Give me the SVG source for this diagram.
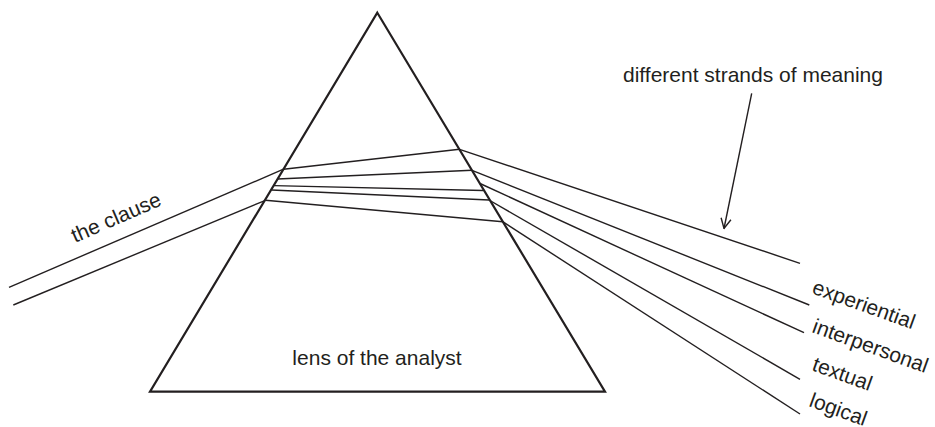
<svg xmlns="http://www.w3.org/2000/svg" width="935" height="427" viewBox="0 0 935 427">
<style>
.t{font-family:"Liberation Sans",Arial,sans-serif;font-size:21px;fill:#231f20}
.prism{fill:none;stroke:#231f20;stroke-width:2.2;stroke-linejoin:miter}
.ray{fill:none;stroke:#231f20;stroke-width:1.4}
</style>
<defs>
<marker id="open" viewBox="0 0 12 12" refX="11" refY="6" markerWidth="12" markerHeight="12" markerUnits="userSpaceOnUse" orient="auto">
<path d="M1,1 L11,6 L1,11" fill="none" stroke="#231f20" stroke-width="1.4"/>
</marker>
</defs>
<rect width="935" height="427" fill="#fff"/>
<g id="connectors">
<line class="ray" x1="9" y1="287.3" x2="283.5" y2="169.2"/>
<line class="ray" x1="13.3" y1="305" x2="265.5" y2="200.3"/>
<line class="ray" x1="283.5" y1="169.2" x2="459.5" y2="149.3"/>
<line class="ray" x1="277.5" y1="179" x2="472" y2="170.3"/>
<line class="ray" x1="274" y1="185.6" x2="483.5" y2="190.5"/>
<line class="ray" x1="271.5" y1="190" x2="489" y2="200"/>
<line class="ray" x1="265.5" y1="200.3" x2="502.7" y2="221.7"/>
<line class="ray" x1="459.5" y1="149.3" x2="800" y2="263.3"/>
<line class="ray" x1="472" y1="170.3" x2="809.3" y2="305"/>
<line class="ray" x1="480" y1="183.5" x2="804" y2="332.7"/>
<line class="ray" x1="489" y1="200" x2="800" y2="379.3"/>
<line class="ray" x1="502.7" y1="221.7" x2="800" y2="414"/>
<line class="ray" x1="751.7" y1="93.3" x2="724" y2="228.5" marker-end="url(#open)"/>
</g>
<g id="prism">
<polygon class="prism" points="377.3,12.7 605,391.7 150,391.7"/>
<text class="t" x="377" y="365" text-anchor="middle">lens of the analyst</text>
</g>
<g id="clause">
<text class="t" transform="translate(75,243) rotate(-23.5)">the clause</text>
</g>
<g id="strands">
<text class="t" x="623" y="82">different strands of meaning</text>
</g>
<g id="experiential"><text class="t" transform="translate(811,293) rotate(19.8)">experiential</text></g>
<g id="interpersonal"><text class="t" transform="translate(811,332) rotate(19.8)">interpersonal</text></g>
<g id="textual"><text class="t" transform="translate(811,370) rotate(19.8)">textual</text></g>
<g id="logical"><text class="t" transform="translate(808,406) rotate(19.8)">logical</text></g>
</svg>
